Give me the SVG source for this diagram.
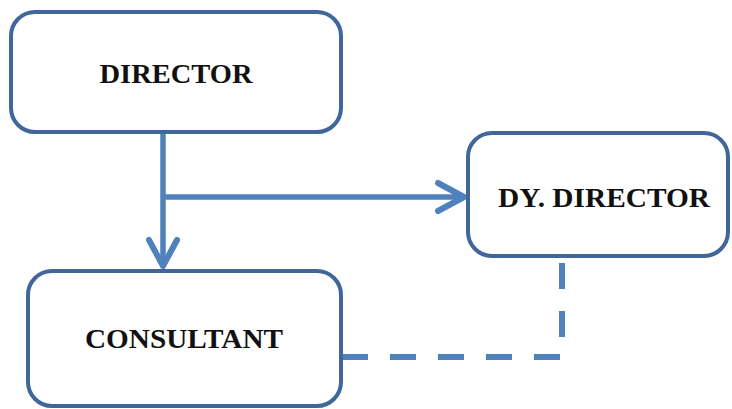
<svg xmlns="http://www.w3.org/2000/svg" width="732" height="409" viewBox="0 0 732 409">
<style>
.box{fill:#ffffff;stroke:#41679a;stroke-width:4}
.lbl{font-family:"Liberation Serif","Times New Roman",serif;font-weight:bold;font-size:28px;fill:#111111;text-anchor:middle}
.conn{fill:none;stroke:#4f81bd;stroke-width:5.5}
.dash{fill:none;stroke:#4f81bd;stroke-width:6;stroke-dasharray:26 22}
.head{fill:none;stroke:#4f81bd;stroke-width:6;stroke-linecap:round;stroke-linejoin:round}
</style>
<defs>
<marker id="arr" markerUnits="userSpaceOnUse" viewBox="-32 -18 36 36" refX="0" refY="0" markerWidth="36" markerHeight="36" orient="auto" overflow="visible">
<path class="head" d="M-26,-14 L0,0 L-26,14"/>
</marker>
</defs>
<g id="connectors">
<path class="conn" d="M163,133 L163,266" marker-end="url(#arr)"/>
<path class="conn" d="M163,197 L464,197" marker-end="url(#arr)"/>
<path class="dash" d="M342,357 L562,357 L562,257"/>
</g>
<g id="director">
<rect class="box" x="11" y="12" width="330" height="120" rx="24"/>
<text class="lbl" x="176" y="83" textLength="153" lengthAdjust="spacingAndGlyphs">DIRECTOR</text>
</g>
<g id="dy-director">
<rect class="box" x="468" y="133" width="260" height="123" rx="24"/>
<text class="lbl" x="604" y="207" textLength="212" lengthAdjust="spacingAndGlyphs">DY. DIRECTOR</text>
</g>
<g id="consultant">
<rect class="box" x="28" y="271" width="313" height="135" rx="24"/>
<text class="lbl" x="184" y="348" textLength="198" lengthAdjust="spacingAndGlyphs">CONSULTANT</text>
</g>
</svg>
